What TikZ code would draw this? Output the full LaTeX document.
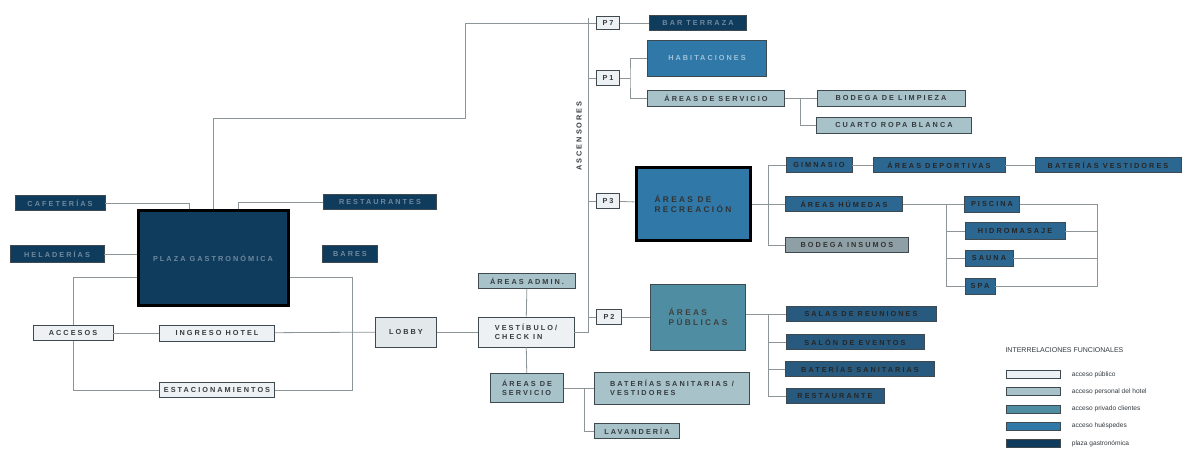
\documentclass[tikz,border=0pt]{standalone}
\usepackage{fontspec}
\setmainfont{Liberation Sans}
\newfontfamily\wide[LetterSpace=28]{Liberation Sans}
\usetikzlibrary{calc}

\definecolor{pubfill}{HTML}{EEF1F3}
\definecolor{lobbyfill}{HTML}{E3E8EB}
\definecolor{stafffill}{HTML}{A8C2C9}
\definecolor{privfill}{HTML}{4E8DA2}
\definecolor{guestfill}{HTML}{2F78A8}
\definecolor{wingfill}{HTML}{2C6792}
\definecolor{hallfill}{HTML}{275A7E}
\definecolor{storefill}{HTML}{8E9FA5}
\definecolor{gastrofill}{HTML}{0F3B5D}
\definecolor{boxline}{HTML}{3E4A50}
\definecolor{linkgray}{HTML}{8D9599}
\definecolor{darktext}{HTML}{353B40}

\begin{document}
\begin{tikzpicture}[x=1pt,y=-1pt,
  sz/.style 2 args={minimum width=#1pt, minimum height=#2pt},
  box/.style={draw=boxline, line width=0.8pt, inner sep=1pt, align=left,
    font=\wide\bfseries\fontsize{7.3}{9}\selectfont, text=darktext},
  big/.style={font=\wide\bfseries\fontsize{8.3}{10.5}\selectfont},
  pub/.style={box, fill=pubfill},
  staff/.style={box, fill=stafffill},
  priv/.style={box, fill=privfill, text=black!75},
  guest/.style={box, fill=guestfill, text=black!80},
  wing/.style={box, fill=wingfill, text=black!85},
  hall/.style={box, fill=hallfill, text=black!85},
  store/.style={box, fill=storefill, text=black!80},
  gastro/.style={box, fill=gastrofill, text=gastrofill!60!white},
  heavy/.style={draw=black, line width=3pt},
  link/.style={draw=linkgray, line width=0.8pt}]

\useasboundingbox[fill=white] (0,0) rectangle (1183,449);

% plaza gastronomica
\node[gastro, heavy, sz={150}{94}] (plaza) at (213,258) {PLAZA GASTRONÓMICA};
\node[gastro, sz={90}{15}] (cafe) at (60,203) {CAFETERÍAS};
\node[gastro, sz={94}{17}] (helad) at (57,254) {HELADERÍAS};
\node[gastro, sz={113}{15}] (rest) at (380,202) {RESTAURANTES};
\node[gastro, sz={55}{17}] (bares) at (350,254) {BARES};

% accesos
\node[pub, sz={80}{15}] (accesos) at (73,333) {ACCESOS};
\node[pub, sz={115}{16}] (ingreso) at (217,333) {INGRESO HOTEL};
\node[pub, sz={115}{15}] (estac) at (217,390) {ESTACIONAMIENTOS};
\node[pub, fill=lobbyfill, sz={61}{30}] (lobby) at (406,332) {LOBBY};
\node[pub, sz={96}{30}] (vest) at (526,332) {VESTÍBULO/\\CHECK IN};
\node[staff, sz={97}{15}] (admin) at (527,281) {ÁREAS ADMIN.};
\node[staff, sz={73}{29}] (servb) at (527,388) {ÁREAS DE\\SERVICIO};
\node[staff, sz={155}{32}] (bater) at (672,388) {BATERÍAS SANITARIAS /\\VESTIDORES};
\node[staff, sz={85}{15}] (lavand) at (637,431) {LAVANDERÍA};

% pisos
\node[pub, sz={23}{13}] (p7) at (608,23) {P7};
\node[pub, sz={23}{15}] (p1) at (608,78) {P1};
\node[pub, sz={23}{15}] (p3) at (608,201) {P3};
\node[pub, sz={25}{15}] (p2) at (609,317) {P2};
\node[font=\wide\bfseries\fontsize{7.3}{9}\selectfont, text=darktext, rotate=90] (asc) at (579,136) {ASCENSORES};

\node[gastro, sz={97}{15}] (terraza) at (698,23) {BAR TERRAZA};
\node[guest, sz={119}{36}, text=guestfill!45!white] (habit) at (707,58) {HABITACIONES};
\node[staff, sz={137}{16}] (serv1) at (716,98) {ÁREAS DE SERVICIO};
\node[staff, sz={148}{16}] (limp) at (891,98) {BODEGA DE LIMPIEZA};
\node[staff, sz={155}{16}] (ropa) at (894,125) {CUARTO ROPA BLANCA};

\node[guest, heavy, big, sz={114}{72}] (recre) at (693,204) {ÁREAS DE\\RECREACIÓN};
\node[wing, sz={66}{15}] (gym) at (819,165) {GIMNASIO};
\node[wing, sz={132}{15}] (deport) at (939,165) {ÁREAS DEPORTIVAS};
\node[wing, sz={146}{15}] (batvest) at (1108,165) {BATERÍAS VESTIDORES};
\node[wing, sz={117}{15}] (humed) at (844,204) {ÁREAS HÚMEDAS};
\node[store, sz={123}{15}] (insumos) at (847,245) {BODEGA INSUMOS};
\node[wing, sz={55}{16}] (piscina) at (992,204) {PISCINA};
\node[wing, sz={100}{17}] (hidro) at (1015,231) {HIDROMASAJE};
\node[wing, sz={48}{16}] (sauna) at (989,258) {SAUNA};
\node[wing, sz={30}{16}] (spa) at (980,286) {SPA};

\node[priv, big, sz={95}{66}] (public) at (698,317) {ÁREAS\\PÚBLICAS};
\node[hall, sz={150}{15}] (salas) at (861,314) {SALAS DE REUNIONES};
\node[hall, sz={138}{15}] (salon) at (855,342) {SALÓN DE EVENTOS};
\node[hall, sz={149}{15}] (batsan) at (860,369) {BATERÍAS SANITARIAS};
\node[hall, sz={98}{15}] (restaur) at (835,396) {RESTAURANTE};

% conexiones
\draw[link] (cafe.east) -| ([xshift=-24pt]plaza.north);
\draw[link] (rest.west) -| ([xshift=25pt]plaza.north);
\draw[link] (helad.east) -- (helad.east -| plaza.west);
\coordinate (b7) at (465,118);
\draw[link] (plaza.north) |- (b7) |- (p7.west);
\draw[link] (accesos.north) |- ([yshift=-19pt]plaza.west);
\draw[link] (accesos.south) |- (estac.west);
\draw[link] ([yshift=-19pt]plaza.east) -| ([xshift=77pt]estac.east) -- (estac.east);
\draw[link] (accesos) -- (ingreso);
\draw[link] (ingreso) -- (lobby);
\draw[link] (lobby) -- (vest);
\draw[link] (admin) -- (vest);
\draw[link] (vest) -- (servb);
\draw[link] (servb) -- (bater);
\draw[link] ([xshift=20pt]servb.east) |- (lavand.west);

\coordinate (shaft) at (588,18);
\draw[link] (vest.east) -| (shaft);
\foreach \p in {p7,p1,p3,p2}
  \draw[link] (\p.west -| shaft) -- (\p.west);

\draw[link] (p7) -- (terraza);
\coordinate (j1) at (630,78);
\draw[link] (p1.east) -- (j1);
\draw[link] (habit.west) -| (j1) |- (serv1.west);
\draw[link] (serv1) -- (limp);
\draw[link] ([xshift=15pt]serv1.east) |- (ropa.west);

\draw[link] (p3) -- (recre);
\coordinate (j3) at (768,204);
\draw[link] (recre.east) -- (humed.west);
\draw[link] (gym.west) -| (j3) |- (insumos.west);
\draw[link] (gym) -- (deport);
\draw[link] (deport) -- (batvest);
\coordinate (j4) at (946,204);
\coordinate (j5) at (1097,204);
\draw[link] (humed) -- (piscina);
\draw[link] (j4) |- (spa.west);
\draw[link] (piscina.east) -- (j5) |- (spa.east);
\foreach \n in {hidro,sauna} {
  \draw[link] (\n.west -| j4) -- (\n.west);
  \draw[link] (\n.east) -- (\n.east -| j5);
}

\draw[link] (p2) -- (public);
\coordinate (j6) at (768,314);
\draw[link] (public.east |- j6) -- (salas.west);
\draw[link] (j6) |- (restaur.west);
\foreach \n in {salon,batsan}
  \draw[link] (\n.west -| j6) -- (\n.west);

% leyenda
\node[anchor=west, font=\fontsize{7}{8}\selectfont, text=darktext] (legtitle) at (1002,350) {INTERRELACIONES FUNCIONALES};
\foreach \i/\c/\t in {1/pubfill/acceso público, 2/stafffill/acceso personal del hotel,
    3/privfill/acceso privado clientes, 4/guestfill/acceso huéspedes, 5/gastrofill/plaza gastronómica} {
  \node[draw=boxline, line width=0.6pt, fill=\c, sz={54}{8}, inner sep=0pt] (leg\i) at (1033,357+17.3*\i) {};
  \node[anchor=west, font=\fontsize{6.6}{7}\selectfont, text=darktext] at ([xshift=8pt]leg\i.east) {\t};
}
\end{tikzpicture}
\end{document}
